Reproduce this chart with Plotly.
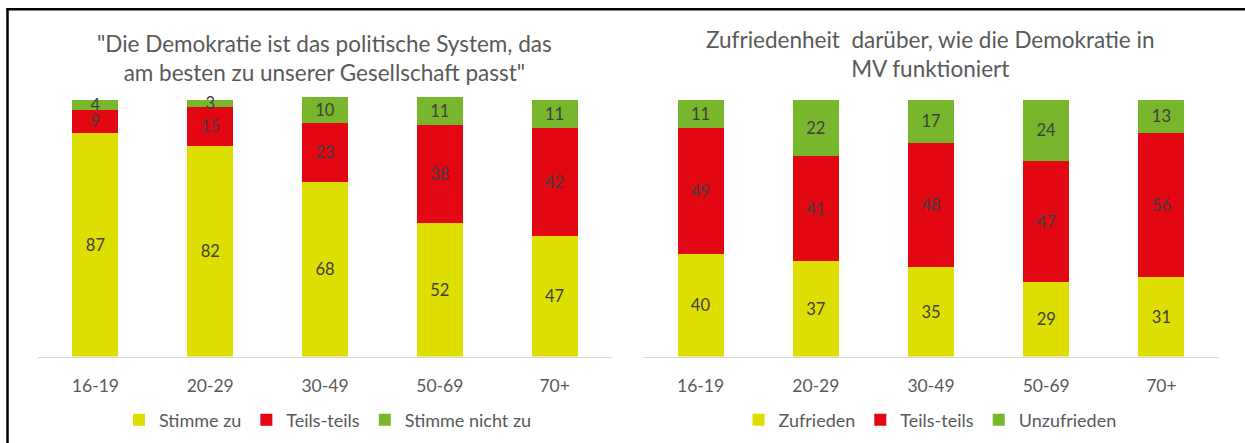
import plotly.graph_objects as go

# Age groups shared by both panels
age_groups = ["16-19", "20-29", "30-49", "50-69", "70+"]

# Left panel: agreement with the statement (percent)
stimme_zu = [87, 82, 68, 52, 47]
teils_left = [9, 15, 23, 38, 42]
stimme_nicht_zu = [4, 3, 10, 11, 11]

# Right panel: satisfaction with democracy in MV (percent)
zufrieden = [40, 37, 35, 29, 31]
teils_right = [49, 41, 48, 47, 56]
unzufrieden = [11, 22, 17, 24, 13]

left_title = '"Die Demokratie ist das politische System, das<br>am besten zu unserer Gesellschaft passt"'
right_title = "Zufriedenheit  darüber, wie die Demokratie in<br>MV funktioniert"

YELLOW = "#DEDE00"
RED = "#E30613"
GREEN = "#78B62B"
LABEL = "#404040"
GREY = "#595959"
FONT = "Lato"

W, H = 1245, 443


def px_x(v):
    return v / W


def px_y(v):
    return 1 - v / H


fig = go.Figure()


def add_stack(values, name, color, xa, ya, legend):
    fig.add_trace(go.Bar(
        x=age_groups, y=values, name=name,
        marker=dict(color=color, line=dict(width=0)),
        text=[str(v) for v in values],
        textposition="inside", insidetextanchor="middle",
        textangle=0, constraintext="none",
        textfont=dict(family=FONT, size=16.5, color=LABEL),
        xaxis=xa, yaxis=ya, legend=legend,
        hoverinfo="skip",
    ))


add_stack(stimme_zu, "Stimme zu", YELLOW, "x", "y", "legend")
add_stack(teils_left, "Teils-teils", RED, "x", "y", "legend")
add_stack(stimme_nicht_zu, "Stimme nicht zu", GREEN, "x", "y", "legend")

add_stack(zufrieden, "Zufrieden", YELLOW, "x2", "y2", "legend2")
add_stack(teils_right, "Teils-teils", RED, "x2", "y2", "legend2")
add_stack(unzufrieden, "Unzufrieden", GREEN, "x2", "y2", "legend2")

# 0 sits at y=356.5 px and 100 at y=99.5 px; a little headroom above 100
# keeps labels of thin top segments from being clipped.
Y_MAX = 104
px_per_unit = (356.5 - 99.5) / 100
y_top_px = 356.5 - px_per_unit * Y_MAX
y_dom = [px_y(356.5), px_y(y_top_px)]

xaxis_common = dict(
    showgrid=False, zeroline=False, showline=True, linecolor="#D9D9D9", linewidth=1,
    ticks="", tickfont=dict(family=FONT, size=17.5, color=GREY), ticklabelstandoff=13,
    fixedrange=True,
)
yaxis_common = dict(
    range=[0, Y_MAX], showgrid=False, zeroline=False, showline=False,
    showticklabels=False, domain=y_dom, fixedrange=True,
)

legend_common = dict(
    orientation="h", yanchor="middle", y=px_y(420), xanchor="center",
    font=dict(family=FONT, size=18, color=GREY), bgcolor="rgba(0,0,0,0)",
    itemwidth=30, traceorder="normal",
)

fig.update_layout(
    width=W, height=H,
    margin=dict(l=0, r=0, t=0, b=0),
    paper_bgcolor="white", plot_bgcolor="white",
    barmode="stack", bargap=0.6,
    showlegend=True,
    uniformtext=dict(minsize=16.5, mode="show"),
    xaxis=dict(domain=[px_x(38), px_x(612)], anchor="y", **xaxis_common),
    yaxis=dict(anchor="x", **yaxis_common),
    xaxis2=dict(domain=[px_x(643), px_x(1219)], anchor="y2", **xaxis_common),
    yaxis2=dict(anchor="x2", **yaxis_common),
    legend=dict(x=px_x(328), **legend_common),
    legend2=dict(x=px_x(930), **legend_common),
    annotations=[
        dict(text=left_title, xref="paper", yref="paper", x=px_x(324), y=px_y(58),
             xanchor="center", yanchor="middle", showarrow=False, align="center",
             font=dict(family=FONT, size=22.5, color=GREY)),
        dict(text=right_title, xref="paper", yref="paper", x=px_x(930), y=px_y(54),
             xanchor="center", yanchor="middle", showarrow=False, align="center",
             font=dict(family=FONT, size=22.5, color=GREY)),
    ],
    shapes=[
        # frame: top and left edges
        dict(type="line", xref="paper", yref="paper", x0=px_x(6.5), x1=1,
             y0=px_y(9.3), y1=px_y(9.3), line=dict(color="black", width=2.5)),
        dict(type="line", xref="paper", yref="paper", x0=px_x(7.5), x1=px_x(7.5),
             y0=px_y(8), y1=0, line=dict(color="black", width=2.5)),
    ],
)

fig.write_html("out.html")
